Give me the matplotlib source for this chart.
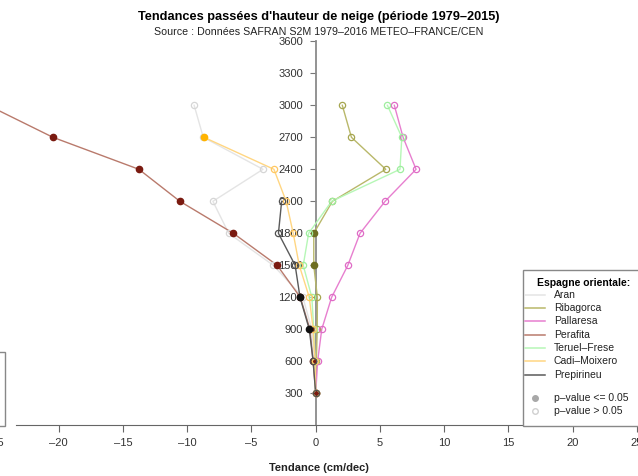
import numpy as np
import matplotlib.pyplot as plt
from matplotlib.lines import Line2D
from matplotlib.patches import Rectangle

plt.rcParams['font.family'] = ['Liberation Sans', 'DejaVu Sans']

# altitudes (m) and trends (cm/dec) per massif
altitudes = [300, 600, 900, 1200, 1500, 1800, 2100, 2400, 2700, 3000]

aran = [0, -0.1, -0.3, -1.0, -3.3, -6.77, -8.0, -4.1, -8.75, -9.46]
ribagorca = [0, 0.05, 0.12, 0.13, -0.15, -0.15, 1.3, 5.45, 2.78, 2.07]
pallaresa = [0, 0.15, 0.47, 1.24, 2.5, 3.45, 5.4, 7.81, 6.8, 6.12]
perafita = [0, -0.2, -0.45, -1.2, -3.0, -6.41, -10.57, -13.76, -20.45, -25.5]
teruel = [0, -0.05, -0.15, -0.3, -0.97, -0.55, 1.24, 6.56, 6.7, 5.58]
cadi = [0, -0.05, -0.2, -0.5, -1.28, -1.75, -2.3, -3.25, -8.7]
prepirineu = [0, -0.2, -0.5, -1.22, -1.6, -2.9, -2.65]

# significant points (p-value <= 0.05)
aran_sig = [False] * 10
ribagorca_sig = [False, False, False, False, True, True, False, False, False, False]
pallaresa_sig = [False] * 10
perafita_sig = [True] * 10
teruel_sig = [False] * 10
cadi_sig = [False, False, False, False, False, False, False, False, True]
prepirineu_sig = [False, False, True, True, False, False, False]

names = ["Aran", "Ribagorca", "Pallaresa", "Perafita", "Teruel\u2013Frese",
         "Cadi\u2013Moixero", "Prepirineu"]
values = [aran, ribagorca, pallaresa, perafita, teruel, cadi, prepirineu]
sigs = [aran_sig, ribagorca_sig, pallaresa_sig, perafita_sig, teruel_sig,
        cadi_sig, prepirineu_sig]
line_colors = ["#e4e4e4", "#b9b86a", "#e77fcf", "#b97a6c", "#b6f7b6",
               "#ffd682", "#5a5a5a"]
open_colors = ["#d6d6d6", "#a6a650", "#df6cc6", "#a0524a", "#9eee9e",
               "#ffc862", "#505050"]
fill_colors = ["#b0b0b0", "#6e6e22", "#b0309a", "#7a1a10", "#60c060",
               "#ffb300", "#111111"]

W, H = 638, 476
fig = plt.figure(figsize=(W / 100, H / 100), dpi=100)

# pixel layout of the plot region
x0_px, px_unit = 315.7, 12.85
y0_px, m_px = 425.3, 32.0 / 300
ytop = 3700
ax = fig.add_axes([(x0_px - 25 * px_unit) / W, (H - y0_px) / H,
                   50 * px_unit / W, ytop * m_px / H])
ax.set_xlim(-25, 25)
ax.set_ylim(0, ytop)
ax.patch.set_alpha(0)

for sp in ["top", "right"]:
    ax.spines[sp].set_visible(False)
ax.spines["left"].set_position(("data", 0))
ax.spines["left"].set_bounds(0, 3600)
ax.spines["left"].set_color("#8a8a8a")
ax.spines["left"].set_linewidth(1.3)
ax.spines["left"].set_zorder(1)
ax.spines["bottom"].set_bounds(-23.35, 25)
ax.spines["bottom"].set_color("#666666")
ax.spines["bottom"].set_zorder(1)
ax.set_axisbelow(True)

ax.set_yticks(range(300, 3601, 300))
ax.tick_params(axis="y", direction="out", length=4, pad=5, labelsize=8,
               color="#777777", labelcolor="#333333")
xt = list(range(-25, 26, 5))
ax.set_xticks(xt)
ax.set_xticklabels([str(v).replace("-", "\u2013") for v in xt])
ax.tick_params(axis="x", direction="out", length=5, pad=4, labelsize=8,
               color="#666666", labelcolor="#333333")

for vals, sig, lc, oc, fc in zip(values, sigs, line_colors, open_colors, fill_colors):
    alt = altitudes[:len(vals)]
    ax.plot(vals, alt, color=lc, lw=1.0, zorder=2)
    for v, a, s in zip(vals, alt, sig):
        if s:
            ax.plot(v, a, "o", ms=4.5, mfc=fc, mec=fc, zorder=3)
        else:
            ax.plot(v, a, "o", ms=4.5, mfc="none", mec=oc, mew=0.9, zorder=3)

# titles
fig.text(0.5, 1 - 17 / H, "Tendances passées d'hauteur de neige (période 1979\u20132015)",
         ha="center", va="center", fontsize=9.2, fontweight="bold")
fig.text(0.5, 1 - 32 / H, "Source : Données SAFRAN S2M 1979\u20132016 METEO\u2013FRANCE/CEN",
         ha="center", va="center", fontsize=7.7, color="#222222")
fig.text(0.5, 1 - 468 / H, "Tendance (cm/dec)", ha="center", va="center",
         fontsize=8, fontweight="bold", color="#222222")


def fx(px):
    return px / W


def fy(py):
    return 1 - py / H


# left (cropped) legend box
fig.add_artist(Rectangle((fx(-60), fy(425.5)), fx(64.5), 73.5 / H,
                         transform=fig.transFigure, fc="white", ec="#888888",
                         lw=1.0, zorder=5))

# right legend
fig.add_artist(Rectangle((fx(522.5), fy(426)), fx(140), 156 / H,
                         transform=fig.transFigure, fc="white", ec="#888888",
                         lw=1.0, zorder=5))
fig.text(fx(584), fy(283), "Espagne orientale:", ha="center", va="center",
         fontsize=7.5, fontweight="bold", zorder=6)
leg_y = [295, 308, 321, 335, 348, 361, 375]
for name, lc, y in zip(names, line_colors, leg_y):
    fig.add_artist(Line2D([fx(525), fx(545)], [fy(y), fy(y)],
                          transform=fig.transFigure, color=lc, lw=1.1, zorder=6))
    fig.text(fx(554), fy(y), name, ha="left", va="center", fontsize=7.5,
             color="#222222", zorder=6)
fig.add_artist(Line2D([fx(535)], [fy(398)], transform=fig.transFigure, marker="o",
                      ms=4, mfc="#a8a8a8", mec="#a8a8a8", ls="none", zorder=6))
fig.add_artist(Line2D([fx(535)], [fy(411)], transform=fig.transFigure, marker="o",
                      ms=4, mfc="none", mec="#d0d0d0", ls="none", zorder=6))
fig.text(fx(554), fy(398), "p\u2013value <= 0.05", ha="left", va="center",
         fontsize=7.5, color="#222222", zorder=6)
fig.text(fx(554), fy(411), "p\u2013value > 0.05", ha="left", va="center",
         fontsize=7.5, color="#222222", zorder=6)

fig.savefig("out.png", dpi=100)
